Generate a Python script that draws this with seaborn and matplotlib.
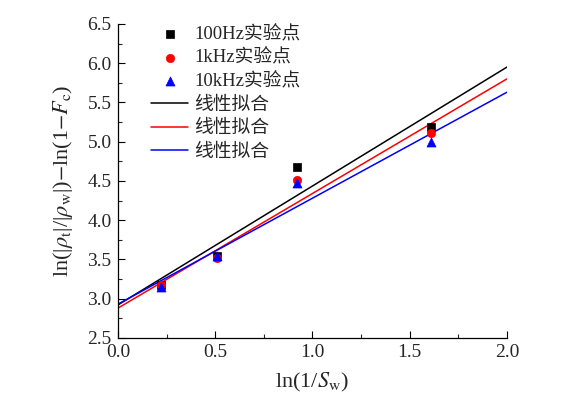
import numpy as np
import pandas as pd
import seaborn as sns
import matplotlib
matplotlib.use("Agg")
import matplotlib.pyplot as plt
from matplotlib.ticker import MultipleLocator, FormatStrFormatter

# ---- data ----
x_pts = [0.22, 0.51, 0.92, 1.61]
y_100hz = [3.17, 3.54, 4.68, 5.19]
y_1khz = [3.17, 3.52, 4.51, 5.11]
y_10khz = [3.15, 3.55, 4.48, 4.99]

# fitted lines: value at x=0 and x=2
fit_x = [0.0, 2.0]
fit_100hz = [2.92, 5.95]
fit_1khz = [2.88, 5.80]
fit_10khz = [2.93, 5.63]

series_labels = ['100Hz实验点', '1kHz实验点', '10kHz实验点']
colors = ['black', 'red', 'blue']
markers = ['s', 'o', '^']

sns.set_style('white')
plt.rcParams['font.family'] = ['Liberation Serif', 'Noto Sans CJK SC']
plt.rcParams['mathtext.fontset'] = 'stix'
plt.rcParams['xtick.direction'] = 'in'
plt.rcParams['ytick.direction'] = 'in'

fig = plt.figure(figsize=(5.78, 3.99), dpi=100)
ax = fig.add_axes([0.204, 0.153, 0.673, 0.787])

# scatter points
for ys, lab, c, m, s in zip([y_100hz, y_1khz, y_10khz], series_labels, colors, markers, [30, 36, 42]):
    sns.scatterplot(x=x_pts, y=ys, ax=ax, color=c, marker=m, s=s,
                    edgecolor=c, linewidth=0.5, label=lab, zorder=3)

# fitted lines
for ys, c in zip([fit_100hz, fit_1khz, fit_10khz], colors):
    sns.lineplot(x=fit_x, y=ys, ax=ax, color=c, linewidth=1.1, label='线性拟合')

ax.set_xlim(0, 2.0)
ax.set_ylim(2.5, 6.5)
ax.xaxis.set_major_locator(MultipleLocator(0.5))
ax.xaxis.set_minor_locator(MultipleLocator(0.25))
ax.yaxis.set_major_locator(MultipleLocator(0.5))
ax.yaxis.set_minor_locator(MultipleLocator(0.25))
ax.xaxis.set_major_formatter(FormatStrFormatter('%.1f'))
ax.yaxis.set_major_formatter(FormatStrFormatter('%.1f'))
ax.tick_params(which='major', length=5, width=0.8, labelsize=14, color='black',
               bottom=True, left=True)
ax.tick_params(axis='x', which='major', pad=4.5)
ax.tick_params(axis='y', which='major', pad=4.5)
ax.tick_params(which='minor', length=3, width=0.8, bottom=True, left=True)

for side in ['top', 'right']:
    ax.spines[side].set_visible(False)
for side in ['left', 'bottom']:
    ax.spines[side].set_color('black')
    ax.spines[side].set_linewidth(0.9)

ax.set_xlabel(r'ln(1/$S_{\rm w}$)', fontsize=16, labelpad=7)
ax.set_ylabel(r'ln(|$\rho_{\rm t}$|/|$\rho_{\rm w}$|)$-$ln(1$-$$F_{\rm c}$)', fontsize=16, labelpad=9)

ax.legend(loc='upper left', bbox_to_anchor=(0.085, 0.995), frameon=False,
          fontsize=13.5, handlelength=2.0, handletextpad=0.3, labelspacing=0.33,
          borderaxespad=0.0, borderpad=0.0)

fig.savefig('out.png', dpi=100)
